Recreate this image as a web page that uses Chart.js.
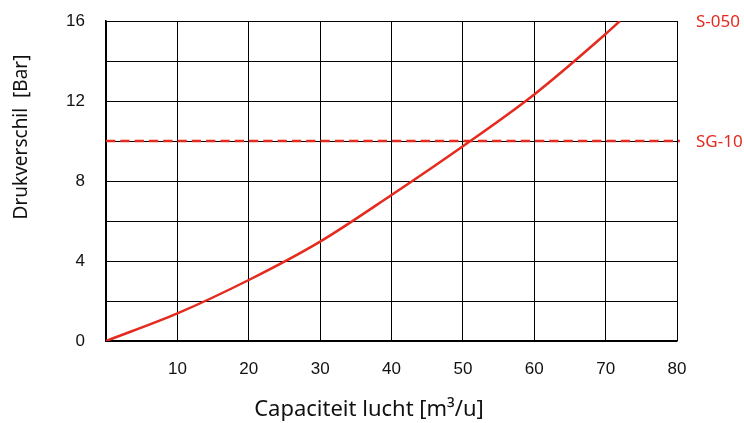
<!DOCTYPE html>
<html>
<head>
<meta charset="utf-8">
<script src="https://cdn.jsdelivr.net/npm/chart.js@4"></script>
<style>
html,body{margin:0;padding:0;background:#fff;}
#wrap{width:744px;height:423px;position:relative;}
</style>
</head>
<body>
<div id="wrap"><canvas id="c" width="744" height="423"></canvas></div>
<script>
// Data
const curveX = [0, 10, 20, 30, 40, 50, 60, 70, 72];
const curveY = [0, 1.38, 3.05, 4.97, 7.3, 9.74, 12.33, 15.35, 16];
const limitX = [0, 80.4];
const limitY = [10, 10];
const seriesNames = ['S-050', 'SG-10'];
const xTitle = 'Capaciteit lucht [m³/u]';
const yTitle = 'Drukverschil  [Bar]';
const xMin = 0, xMax = 80, xStep = 10;
const yMin = 0, yMax = 16, yStep = 2, yLabelEvery = 4;

const RED = '#e52a1e';
const curvePts = curveX.map((x, i) => ({x, y: curveY[i]}));
const limitPts = limitX.map((x, i) => ({x, y: limitY[i]}));

const textPlugin = {
  id: 'texts',
  afterDraw(chart) {
    const ctx = chart.ctx;
    const ys = chart.scales.y;
    ctx.save();
    ctx.fillStyle = RED;
    ctx.font = '17px "Noto Sans"';
    ctx.textAlign = 'left';
    ctx.textBaseline = 'middle';
    ctx.fillText(seriesNames[0], 696, ys.getPixelForValue(yMax) + 1);
    ctx.fillText(seriesNames[1], 696, ys.getPixelForValue(limitY[0]) + 1);
    ctx.fillStyle = '#111';
    ctx.font = '22px "Noto Sans"';
    ctx.textAlign = 'center';
    ctx.fillText(xTitle, 369, 410);
    ctx.font = '19px "Noto Sans"';
    ctx.translate(22, 137);
    ctx.rotate(-Math.PI / 2);
    ctx.fillText(yTitle, 0, 0);
    ctx.restore();
  }
};

new Chart(document.getElementById('c'), {
  type: 'scatter',
  data: {
    datasets: [
      {
        label: seriesNames[0],
        data: curvePts,
        showLine: true,
        borderColor: RED,
        borderWidth: 2.5,
        pointRadius: 0,
        cubicInterpolationMode: 'monotone',
        fill: false
      },
      {
        label: seriesNames[1],
        data: limitPts,
        showLine: true,
        borderColor: RED,
        borderWidth: 2.5,
        borderDash: [9.3, 5],
        pointRadius: 0,
        fill: false,
        clip: false
      }
    ]
  },
  options: {
    responsive: false,
    animation: false,
    devicePixelRatio: 1,
    layout: { padding: { top: 21, right: 67, left: 0, bottom: 0 } },
    plugins: { legend: { display: false }, tooltip: { enabled: false } },
    scales: {
      x: {
        type: 'linear',
        min: xMin, max: xMax,
        afterFit(s) { s.height = 82; s.paddingLeft = 0; s.paddingRight = 0; },
        ticks: {
          stepSize: xStep,
          padding: 18,
          color: '#111',
          font: { family: '"Liberation Sans"', size: 17 },
          callback: v => v === 0 ? '' : String(v)
        },
        grid: { color: '#000', lineWidth: 1, drawTicks: false },
        border: { color: '#000', width: 1.5 }
      },
      y: {
        type: 'linear',
        min: yMin, max: yMax,
        afterFit(s) { s.width = 106; s.paddingTop = 0; s.paddingBottom = 0; },
        ticks: {
          stepSize: yStep,
          padding: 21,
          color: '#111',
          font: { family: '"Liberation Sans"', size: 17 },
          callback: v => (v % yLabelEvery === 0) ? String(v) : ''
        },
        grid: { color: '#000', lineWidth: 1, drawTicks: false },
        border: { color: '#000', width: 1.5 }
      }
    }
  },
  plugins: [textPlugin]
});
</script>
</body>
</html>
